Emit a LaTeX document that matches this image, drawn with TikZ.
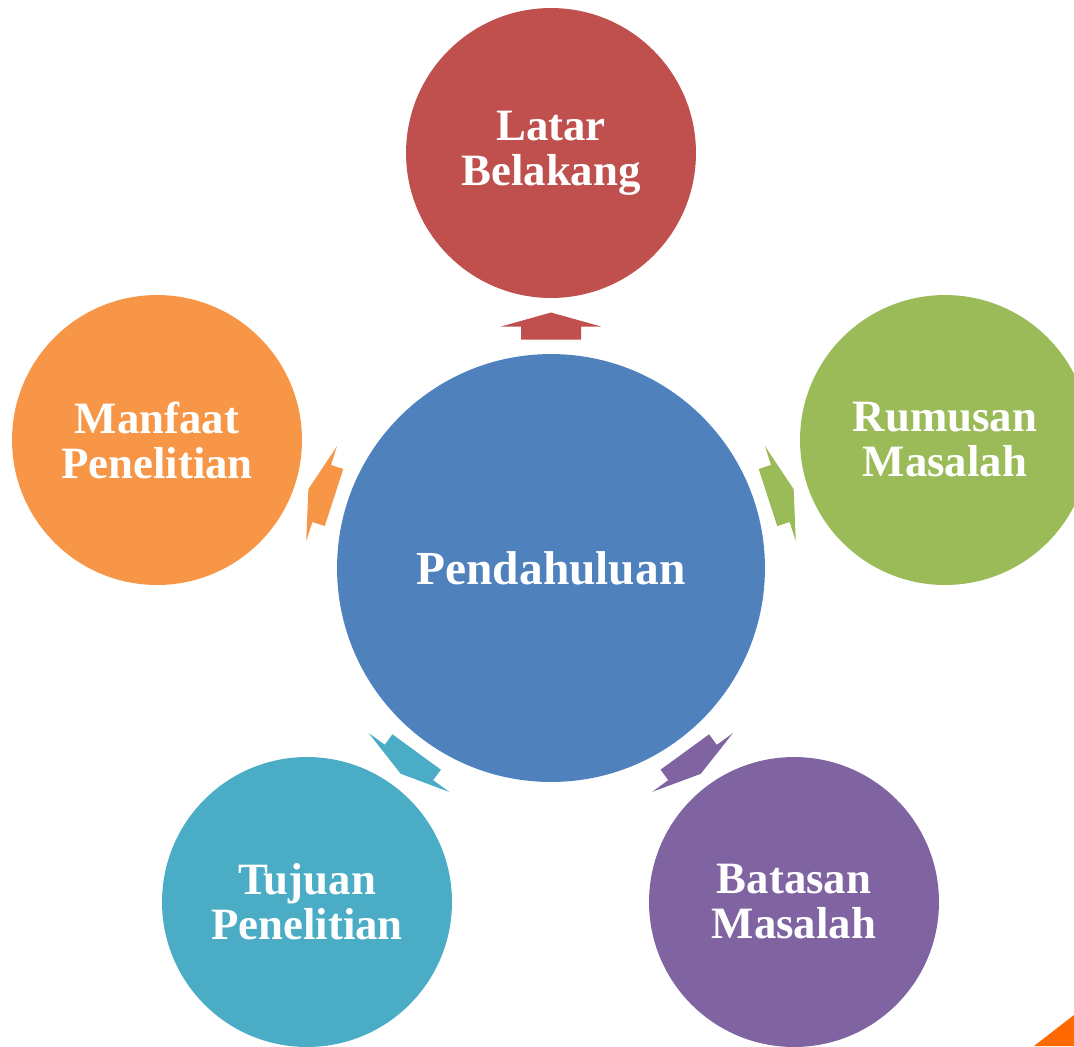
\documentclass[tikz,border=0pt]{standalone}
\usepackage{fontspec}
\setmainfont{Liberation Serif}

\definecolor{coreblue}{HTML}{4F81BD}
\definecolor{latarred}{HTML}{C0504D}
\definecolor{rumusgreen}{HTML}{9BBB59}
\definecolor{batasviolet}{HTML}{8064A2}
\definecolor{tujuanaqua}{HTML}{4BACC6}
\definecolor{manfaatorange}{HTML}{F79646}
\definecolor{cornerorange}{HTML}{FF6A00}

\tikzset{
    core/.style={circle, fill=coreblue, text=white, minimum size=8.56cm,
        inner sep=0pt, font=\bfseries\fontsize{27}{32}\selectfont},
    topic/.style={circle, fill=#1, text=white, minimum size=5.8cm,
        inner sep=0pt, align=center,
        font=\bfseries\fontsize{25.5}{25.6}\selectfont}
}

\begin{document}
\begin{tikzpicture}[x=0.02cm,y=-0.02cm]
    \useasboundingbox (0,0) rectangle (1074,1046);
    % centre and the five topics
    \node[core] (pend) at (551,568) {Pendahuluan};
    \node[topic=latarred] (latar) at (551,153) {Latar\\Belakang};
    \node[topic=rumusgreen] (rumusan) at (945,440) {Rumusan\\Masalah};
    \node[topic=batasviolet] (batasan) at (794,902) {Batasan\\Masalah};
    \node[topic=tujuanaqua] (tujuan) at (307,902) {Tujuan\\Penelitian};
    \node[topic=manfaatorange] (manfaat) at (157,440) {Manfaat\\Penelitian};
    % block arrows, halfway between the rims
    \foreach \t/\c in {latar/latarred, rumusan/rumusgreen, batasan/batasviolet,
                      tujuan/tujuanaqua, manfaat/manfaatorange}{
        \path (pend) -- (\t) coordinate[pos=0.5] (mid);
        \pgfmathanglebetweenpoints{\pgfpointanchor{pend}{center}}{\pgfpointanchor{\t}{center}}
        \let\ang\pgfmathresult
        \begin{scope}[shift={(mid)}, rotate=\ang]
            \fill[\c] (-13.5,-30) -- (-0.5,-30) -- (-0.5,-50) -- (13.5,0)
                -- (-0.5,50) -- (-0.5,30) -- (-13.5,30) -- cycle;
        \end{scope}
    }
    % corner mark
    \fill[cornerorange] (1034,1046) -- (1074,1046) -- (1074,1015) -- cycle;
\end{tikzpicture}
\end{document}
